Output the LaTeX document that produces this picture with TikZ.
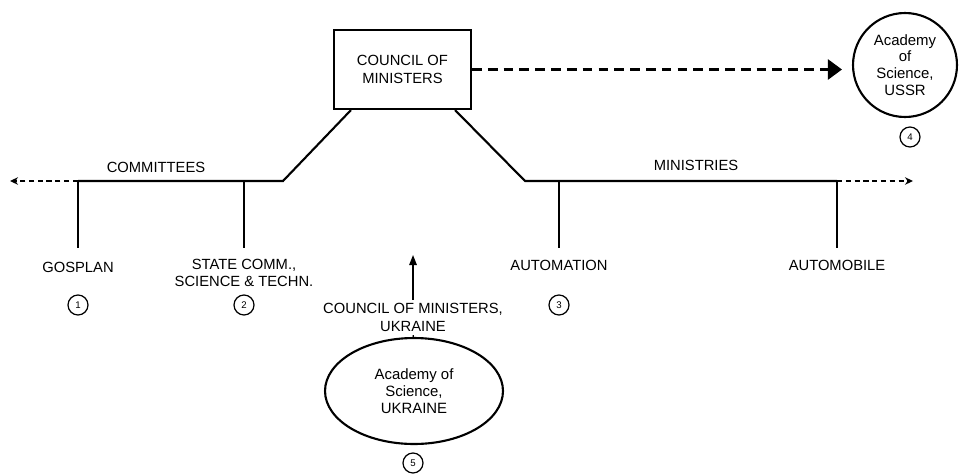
\documentclass[tikz,border=0pt]{standalone}
\usepackage{fontspec}
\setmainfont{Liberation Sans}
\usetikzlibrary{arrows.meta,shapes.geometric}

\begin{document}
\begin{tikzpicture}[x=0.02cm,y=-0.02cm,
    every node/.style={font=\fontsize{8.4}{9.8}\selectfont},
    bus/.style={line width=1.2pt},
    branch/.style={anchor=north,align=center,inner ysep=6pt},
    numcirc/.style={circle,draw,line width=0.7pt,minimum size=0.4cm,inner sep=0pt,font=\fontsize{5.5}{6}\selectfont},
    sidearrow/.style={line width=0.9pt,dash pattern=on 3pt off 2pt,-{Stealth[length=1.6mm,width=1.5mm]}},
    bigarrow/.style={line width=1.4pt,dash pattern=on 5.5pt off 3.5pt,-{Triangle[length=2.8mm,width=4mm]}}]

  \useasboundingbox (0,0) rectangle (959,474);

  % nodes
  \node[draw,line width=1.2pt,minimum width=2.74cm,minimum height=1.58cm,align=center] (council) at (402.5,69.5) {COUNCIL OF\\MINISTERS};
  \node[circle,draw,line width=1.2pt,minimum size=2.08cm,align=center,inner sep=0pt,font=\fontsize{8.5}{9.6}\selectfont] (ussr) at (905,65) {Academy\\of\\Science,\\USSR};
  \node[ellipse,draw,line width=1.2pt,minimum width=3.56cm,minimum height=2.12cm,align=center,font=\fontsize{8.5}{9.6}\selectfont] (ukracad) at (414,391) {Academy of\\Science,\\UKRAINE};
  \node[align=center,inner sep=2pt] (ukrcouncil) at (413,317.5) {COUNCIL OF MINISTERS,\\UKRAINE};

  \coordinate (cl) at (283,181);
  \coordinate (cr) at (525,181);
  \coordinate (jgos) at (78,181);
  \coordinate (jstate) at (244,181);
  \coordinate (jauto) at (559,181);
  \coordinate (jmobile) at (837,181);
  \coordinate (leftend) at (10,181);
  \coordinate (rightend) at (913,181);
  \coordinate (uptip) at (413,255);

  \node[branch,inner ysep=8pt] (gosplan) at (78,248) {GOSPLAN};
  \node[branch] (statecomm) at (244,248) {STATE COMM.,\\SCIENCE \& TECHN.};
  \node[branch,inner ysep=7pt] (automation) at (559,248) {AUTOMATION};
  \node[branch,inner ysep=7pt] (automobile) at (837,248) {AUTOMOBILE};

  % lines
  \draw[bus] ([xshift=18*0.02cm]council.south west) -- (cl) -- (jgos);
  \draw[bus] ([xshift=-17*0.02cm]council.south east) -- (cr) -- (jmobile);
  \draw[bus] (jgos) -- (gosplan);
  \draw[bus] (jstate) -- (statecomm);
  \draw[bus] (jauto) -- (automation);
  \draw[bus] (jmobile) -- (automobile);
  \draw[line width=0.7pt] (ukrcouncil) -- (ukracad);

  % arrows
  \draw[sidearrow] (jgos) -- (leftend);
  \draw[sidearrow] (jmobile) -- (rightend);
  \draw[bigarrow] (council.east) -- ([xshift=-10*0.02cm]council.east -| ussr.west);
  \draw[line width=0.8pt,-{Triangle[length=2mm,width=1.5mm]}] (ukrcouncil) -- (uptip);

  % labels
  \node (committees) at (156,167) {COMMITTEES};
  \node (ministries) at (696,165) {MINISTRIES};
  \node[numcirc] (n1) at (78,305) {1};
  \node[numcirc] (n2) at (244,305) {2};
  \node[numcirc] (n3) at (559,305) {3};
  \node[numcirc] (n4) at (910,137) {4};
  \node[numcirc] (n5) at (413,463) {5};

\end{tikzpicture}
\end{document}
